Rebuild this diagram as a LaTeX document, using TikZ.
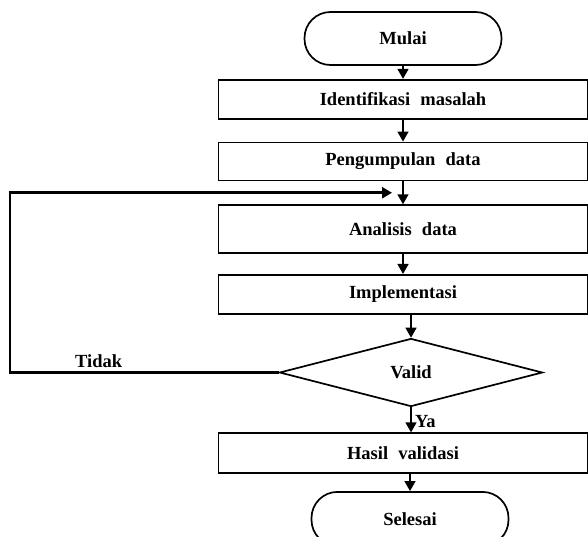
\documentclass[tikz,border=0pt]{standalone}
\usepackage{fontspec}
\setmainfont{Liberation Serif}
\usetikzlibrary{positioning}
\usetikzlibrary{calc}
\usetikzlibrary{shapes.geometric}
\usetikzlibrary{arrows.meta}

\newcommand{\hurufalur}{\bfseries\fontsize{18.5}{21}\selectfont\spaceskip=0.55em\relax}

\begin{document}
\begin{tikzpicture}[x=1pt,y=1pt,>={Triangle[length=10pt,width=11pt]},
			font=\hurufalur,
			line width=1.7pt]
			\tikzstyle{terminal}=[draw,rounded corners=26pt,minimum width=197pt,minimum height=53pt]
			\tikzstyle{proses}=[draw,minimum width=369pt,minimum height=39pt]
			\tikzstyle{keputusan}=[draw,diamond,minimum width=263pt,minimum height=68pt,inner sep=0pt]
			\tikzstyle{alur}=[->,line width=1.5pt]
			\tikzstyle{balik}=[->,line width=2.8pt]
			
			\useasboundingbox (0,0) rectangle (588,-536);
			
			\node[terminal]   (mulai)                                   at (403,-38.5) {Mulai};
			\node[proses]     (ident) [below=13pt of mulai]             {Identifikasi masalah};
			\node[proses,minimum height=38pt] (peng) [below=22pt of ident] {Pengumpulan data};
			\node[proses,minimum height=48pt] (anal) [below=23pt of peng]  {Analisis data};
			\node[proses]     (impl)  [below=20pt of anal]              {Implementasi};
			\node[keputusan]  (valid) [below=23pt of impl,xshift=8pt]   {Valid};
			\node[proses,minimum height=40pt] (hasil) [below=25pt of valid,xshift=-8pt] {Hasil validasi};
			\node[terminal,minimum height=54pt] (selesai) [below=17pt of hasil,xshift=7pt] {Selesai};
			
			\coordinate (masuk) at ($(peng.south)!0.5!(anal.north)+(-11,0)$);
			\coordinate (kiri) at (10,0);
			
			\draw[alur] (mulai) -- (ident);
			\draw[alur] (ident) -- (peng);
			\draw[alur] (peng) -- (anal);
			\draw[alur] (anal) -- (impl);
			\draw[alur] (valid.north |- impl.south) -- (valid.north);
			\draw[alur] (valid.south) -- node[right,pos=0.55] {Ya} (valid.south |- hasil.north);
			\draw[alur] (hasil.south -| selesai.north) -- (selesai.north);
			\draw[balik] (valid.west) -- node[above,pos=0.67] {Tidak} (valid.west -| kiri) |- (masuk);
\end{tikzpicture}
\end{document}
